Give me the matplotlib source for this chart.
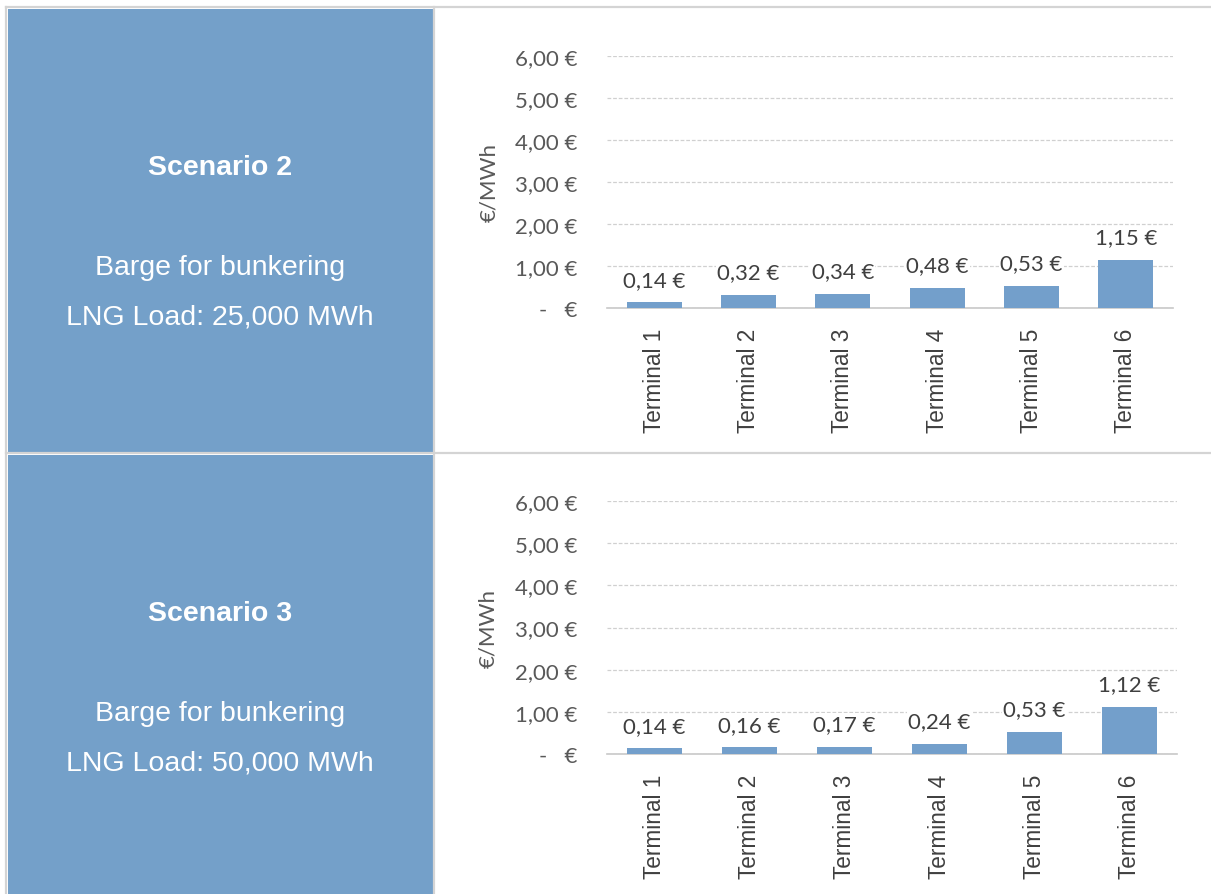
import matplotlib.pyplot as plt
from matplotlib.patches import Rectangle
from matplotlib.lines import Line2D

terminals = ["Terminal 1", "Terminal 2", "Terminal 3", "Terminal 4", "Terminal 5", "Terminal 6"]
scenario2 = [0.14, 0.32, 0.34, 0.48, 0.53, 1.15]
scenario3 = [0.14, 0.16, 0.17, 0.24, 0.53, 1.12]
yticks = [0, 1, 2, 3, 4, 5, 6]

scenarios = [
    ("Scenario 2", "Barge for bunkering", "LNG Load: 25,000 MWh", scenario2),
    ("Scenario 3", "Barge for bunkering", "LNG Load: 50,000 MWh", scenario3),
]

W, H = 1211, 895
fig = plt.figure(figsize=(W / 100, H / 100), dpi=100)
fig.patch.set_facecolor("white")

BLUE = "#74a0c9"
BORDER = "#d4d4d4"
TXT = "#595959"


def fx(px):
    return px / W


def fy(py):
    return 1 - py / H


def euro(v):
    if v == 0:
        return "-   €"
    return f"{v:.2f}".replace(".", ",") + " €"


# table cells (left column)
cells = [(10, 453), (456, 895)]
for (top, bot), (title, line1, line2, vals) in zip(cells, scenarios):
    fig.patches.append(Rectangle((fx(8), fy(bot)), fx(433) - fx(8), fy(top) - fy(bot),
                                 transform=fig.transFigure, facecolor=BLUE, edgecolor="none"))
    cx = fx(220)
    fig.text(cx, fy(top + 158), title, ha="center", va="center", color="white",
             fontsize=20.5, fontweight="bold", family="Liberation Sans")
    fig.text(cx, fy(top + 258), line1, ha="center", va="center", color="white",
             fontsize=20.5, family="Liberation Sans")
    fig.text(cx, fy(top + 308), line2, ha="center", va="center", color="white",
             fontsize=20.5, family="Liberation Sans")

# table borders
for y in [8, 454]:
    fig.lines.append(Line2D([fx(6), 1], [fy(y), fy(y)], transform=fig.transFigure,
                            color=BORDER, lw=1.6))
for x in [6, 434]:
    fig.lines.append(Line2D([fx(x), fx(x)], [fy(8), 0], transform=fig.transFigure,
                            color=BORDER, lw=1.6))

# charts
axes_px = [(607, 1173, 57, 309), (607, 1177, 502, 755)]
for (x0, x1, y6, y0), (_, _, _, vals) in zip(axes_px, scenarios):
    ax = fig.add_axes([fx(x0), fy(y0), fx(x1) - fx(x0), fy(y6) - fy(y0)])
    ax.set_facecolor("none")
    x = range(len(terminals))
    ax.bar(x, vals, width=0.58, color="#739fcb", zorder=3)
    for xi, v in zip(x, vals):
        ax.annotate(euro(v), (xi, v), xytext=(0, 9), textcoords="offset points",
                    ha="center", va="bottom", fontsize=16, color="#404040",
                    family="Lato", zorder=4,
                    bbox=dict(facecolor="white", edgecolor="none", pad=1))
    ax.set_xlim(-0.5, len(terminals) - 0.5)
    ax.set_ylim(0, 6)
    ax.set_yticks(yticks)
    ax.set_yticklabels([euro(v) for v in yticks], fontsize=16, color=TXT, family="Lato")
    ax.set_xticks(list(x))
    ax.set_xticklabels(terminals, rotation=90, fontsize=16.3, color="#404040",
                       family="Liberation Sans")
    ax.tick_params(axis="both", length=0)
    ax.tick_params(axis="y", pad=21)
    ax.tick_params(axis="x", pad=14)
    ax.grid(axis="y", color="#d0d0d0", linestyle=(0, (3, 1.5)), lw=0.9, zorder=0)
    for s in ["top", "right", "left"]:
        ax.spines[s].set_visible(False)
    ax.spines["bottom"].set_color("#c8c8c8")
    ax.spines["bottom"].set_linewidth(1.2)
    ax.set_ylabel("€/MWh", fontsize=16, color=TXT, family="Lato")
    ax.yaxis.set_label_coords(-0.19, 0.5)

fig.savefig("out.png", dpi=100)
